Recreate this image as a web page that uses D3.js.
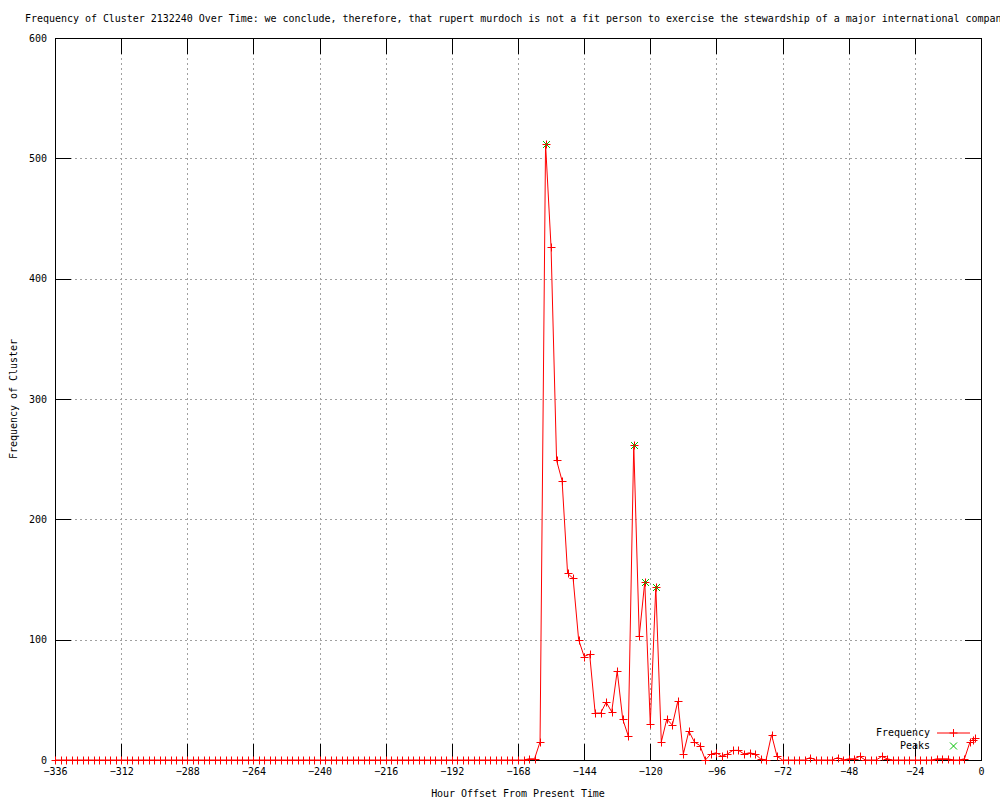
<!DOCTYPE html>
<html>
<head>
<meta charset="utf-8">
<script src="https://cdn.jsdelivr.net/npm/d3@7"></script>
<style>
  html, body { margin: 0; padding: 0; background: #fff; }
  svg { display: block; }
  text { font-family: "DejaVu Sans Mono", monospace; font-size: 10px; fill: #000; letter-spacing: -0.03px; }
</style>
</head>
<body>
<svg id="chart" width="1000" height="800"></svg>
<script>
const titleText = "Frequency of Cluster 2132240 Over Time: we conclude, therefore, that rupert murdoch is not a fit person to exercise the stewardship of a major international company";
const xLabel = "Hour Offset From Present Time";
const yLabel = "Frequency of Cluster";

const xTicks = [-336, -312, -288, -264, -240, -216, -192, -168, -144, -120, -96, -72, -48, -24, 0];
const yTicks = [0, 100, 200, 300, 400, 500, 600];

const hours = [
  -336,-334,-332,-330,-328,-326,-324,-322,-320,-318,-316,-314,-312,-310,-308,-306,-304,-302,-300,-298,
  -296,-294,-292,-290,-288,-286,-284,-282,-280,-278,-276,-274,-272,-270,-268,-266,-264,-262,-260,-258,
  -256,-254,-252,-250,-248,-246,-244,-242,-240,-238,-236,-234,-232,-230,-228,-226,-224,-222,-220,-218,
  -216,-214,-212,-210,-208,-206,-204,-202,-200,-198,-196,-194,-192,-190,-188,-186,-184,-182,-180,-178,
  -176,-174,-172,-170,-168,-166,-164,-162,-160,-158,-156,-154,-152,-150,-148,-146,-144,-142,-140,-138,
  -136,-134,-132,-130,-128,-126,-124,-122,-120,-118,-116,-114,-112,-110,-108,-106,-104,-102,-100,-98,
  -96,-94,-92,-90,-88,-86,-84,-82,-80,-78,-76,-74,-72,-70,-68,-66,-64,-62,-60,-58,
  -56,-54,-52,-50,-48,-46,-44,-42,-40,-38,-36,-34,-32,-30,-28,-26,-24,-22,-20,-18,
  -16,-14,-12,-10,-8,-6,-4,-3,-2
];
const frequency = [
  0,0,0,0,0,0,0,0,0,0,0,0,0,0,0,0,0,0,0,0,
  0,0,0,0,0,0,0,0,0,0,0,0,0,0,0,0,0,0,0,0,
  0,0,0,0,0,0,0,0,0,0,0,0,0,0,0,0,0,0,0,0,
  0,0,0,0,0,0,0,0,0,0,0,0,0,0,0,0,0,0,0,0,
  0,0,0,0,0,0,1,1,15,512,426,249,232,155,151,100,86,88,39,39,
  48,40,74,34,20,262,103,148,30,144,15,34,29,49,5,24,15,12,0,5,
  6,3,5,8,8,5,6,5,1,0,21,3,0,0,0,0,0,2,0,0,
  0,0,2,0,1,1,3,0,0,0,3,1,0,0,0,0,0,0,0,0,
  1,1,1,0,0,1,15,17,18
];

const peakHours = [-158, -126, -122, -118];
const peakValues = [512, 262, 148, 144];

const svg = d3.select("#chart");
const mLeft = 55, mRight = 981, mTop = 38, mBottom = 760;

const x = d3.scaleLinear().domain([-336, 0]).range([mLeft, mRight]);
const y = d3.scaleLinear().domain([0, 600]).range([mBottom, mTop]);

// grid
const grid = svg.append("g");
grid.selectAll("line.gx").data(xTicks.slice(1, -1)).enter().append("line")
  .attr("x1", d => Math.round(x(d)) + 0.5).attr("x2", d => Math.round(x(d)) + 0.5)
  .attr("y1", mTop).attr("y2", mBottom)
  .attr("stroke", "#a0a0a0").attr("stroke-width", 1).attr("stroke-dasharray", "2,3");
grid.selectAll("line.gy").data(yTicks.slice(1, -1)).enter().append("line")
  .attr("y1", d => Math.round(y(d)) + 0.5).attr("y2", d => Math.round(y(d)) + 0.5)
  .attr("x1", mLeft).attr("x2", mRight)
  .attr("stroke", "#a0a0a0").attr("stroke-width", 1).attr("stroke-dasharray", "2,3");

// axes with mirrored inward ticks
const tickLen = 16;
const xAxisB = d3.axisBottom(x).tickValues(xTicks).tickSizeInner(-tickLen).tickSizeOuter(0).tickPadding(8);
const gxb = svg.append("g").attr("transform", `translate(0,${mBottom})`).call(xAxisB);
const xAxisT = d3.axisTop(x).tickValues(xTicks).tickSizeInner(-tickLen).tickSizeOuter(0).tickFormat("");
const gxt = svg.append("g").attr("transform", `translate(0,${mTop})`).call(xAxisT);
const yAxisL = d3.axisLeft(y).tickValues(yTicks).tickSizeInner(-tickLen).tickSizeOuter(0).tickPadding(8);
const gyl = svg.append("g").attr("transform", `translate(${mLeft},0)`).call(yAxisL);
const yAxisR = d3.axisRight(y).tickValues(yTicks).tickSizeInner(-tickLen).tickSizeOuter(0).tickFormat("");
const gyr = svg.append("g").attr("transform", `translate(${mRight},0)`).call(yAxisR);
[gxb, gxt, gyl, gyr].forEach(g => {
  g.select(".domain").remove();
  g.selectAll("line").attr("stroke", "#000").attr("shape-rendering", "crispEdges");
  g.selectAll("text").attr("font-family", "DejaVu Sans Mono, monospace").attr("font-size", 10).attr("fill", "#000");
});
gxb.selectAll("text").attr("dy", "0.71em");

// border
svg.append("rect").attr("x", mLeft + 0.5).attr("y", mTop + 0.5)
  .attr("width", mRight - mLeft).attr("height", mBottom - mTop)
  .attr("fill", "none").attr("stroke", "#000").attr("stroke-width", 1);

// data line
const pts = hours.map((h, i) => [h, frequency[i]]);
const line = d3.line().x(d => x(d[0])).y(d => y(d[1]));
svg.append("path").datum(pts).attr("d", line)
  .attr("fill", "none").attr("stroke", "#ff0000").attr("stroke-width", 1);

const plusSize = 4;
const plusPath = (cx, cy) => `M${cx - plusSize},${cy}H${cx + plusSize}M${cx},${cy - plusSize}V${cy + plusSize}`;
svg.append("g").selectAll("path").data(pts).enter().append("path")
  .attr("d", d => plusPath(Math.round(x(d[0])) + 0.5, Math.round(y(d[1])) + 0.5))
  .attr("stroke", "#ff0000").attr("stroke-width", 1).attr("fill", "none");

// peaks
const xs = 3.5;
const crossPath = (cx, cy) => `M${cx - xs},${cy - xs}L${cx + xs},${cy + xs}M${cx - xs},${cy + xs}L${cx + xs},${cy - xs}`;
svg.append("g").selectAll("path").data(peakHours.map((h, i) => [h, peakValues[i]])).enter().append("path")
  .attr("d", d => crossPath(Math.round(x(d[0])) + 0.5, Math.round(y(d[1])) + 0.5))
  .attr("stroke", "#00c000").attr("stroke-width", 1).attr("fill", "none");

// legend
const legX = 930, legY1 = 732.5, legY2 = 745.5;
svg.append("text").attr("x", legX).attr("y", legY1).attr("dy", "0.35em").attr("text-anchor", "end").text("Frequency");
svg.append("text").attr("x", legX).attr("y", legY2).attr("dy", "0.35em").attr("text-anchor", "end").text("Peaks");
svg.append("line").attr("x1", 937).attr("x2", 970).attr("y1", legY1 + 0.5).attr("y2", legY1 + 0.5)
  .attr("stroke", "#ff0000").attr("stroke-width", 1);
svg.append("path").attr("d", plusPath(953.5, legY1 + 0.5)).attr("stroke", "#ff0000").attr("fill", "none");
svg.append("path").attr("d", crossPath(953.5, legY2 + 0.5)).attr("stroke", "#00c000").attr("fill", "none");

// titles
svg.append("text").attr("x", 25).attr("y", 18).attr("dy", "0.35em").text(titleText);
svg.append("text").attr("x", (mLeft + mRight) / 2).attr("y", 793).attr("dy", "0.35em")
  .attr("text-anchor", "middle").text(xLabel);
svg.append("text").attr("transform", `translate(13,${(mTop + mBottom) / 2}) rotate(-90)`)
  .attr("dy", "0.35em").attr("text-anchor", "middle").text(yLabel);
</script>
</body>
</html>
